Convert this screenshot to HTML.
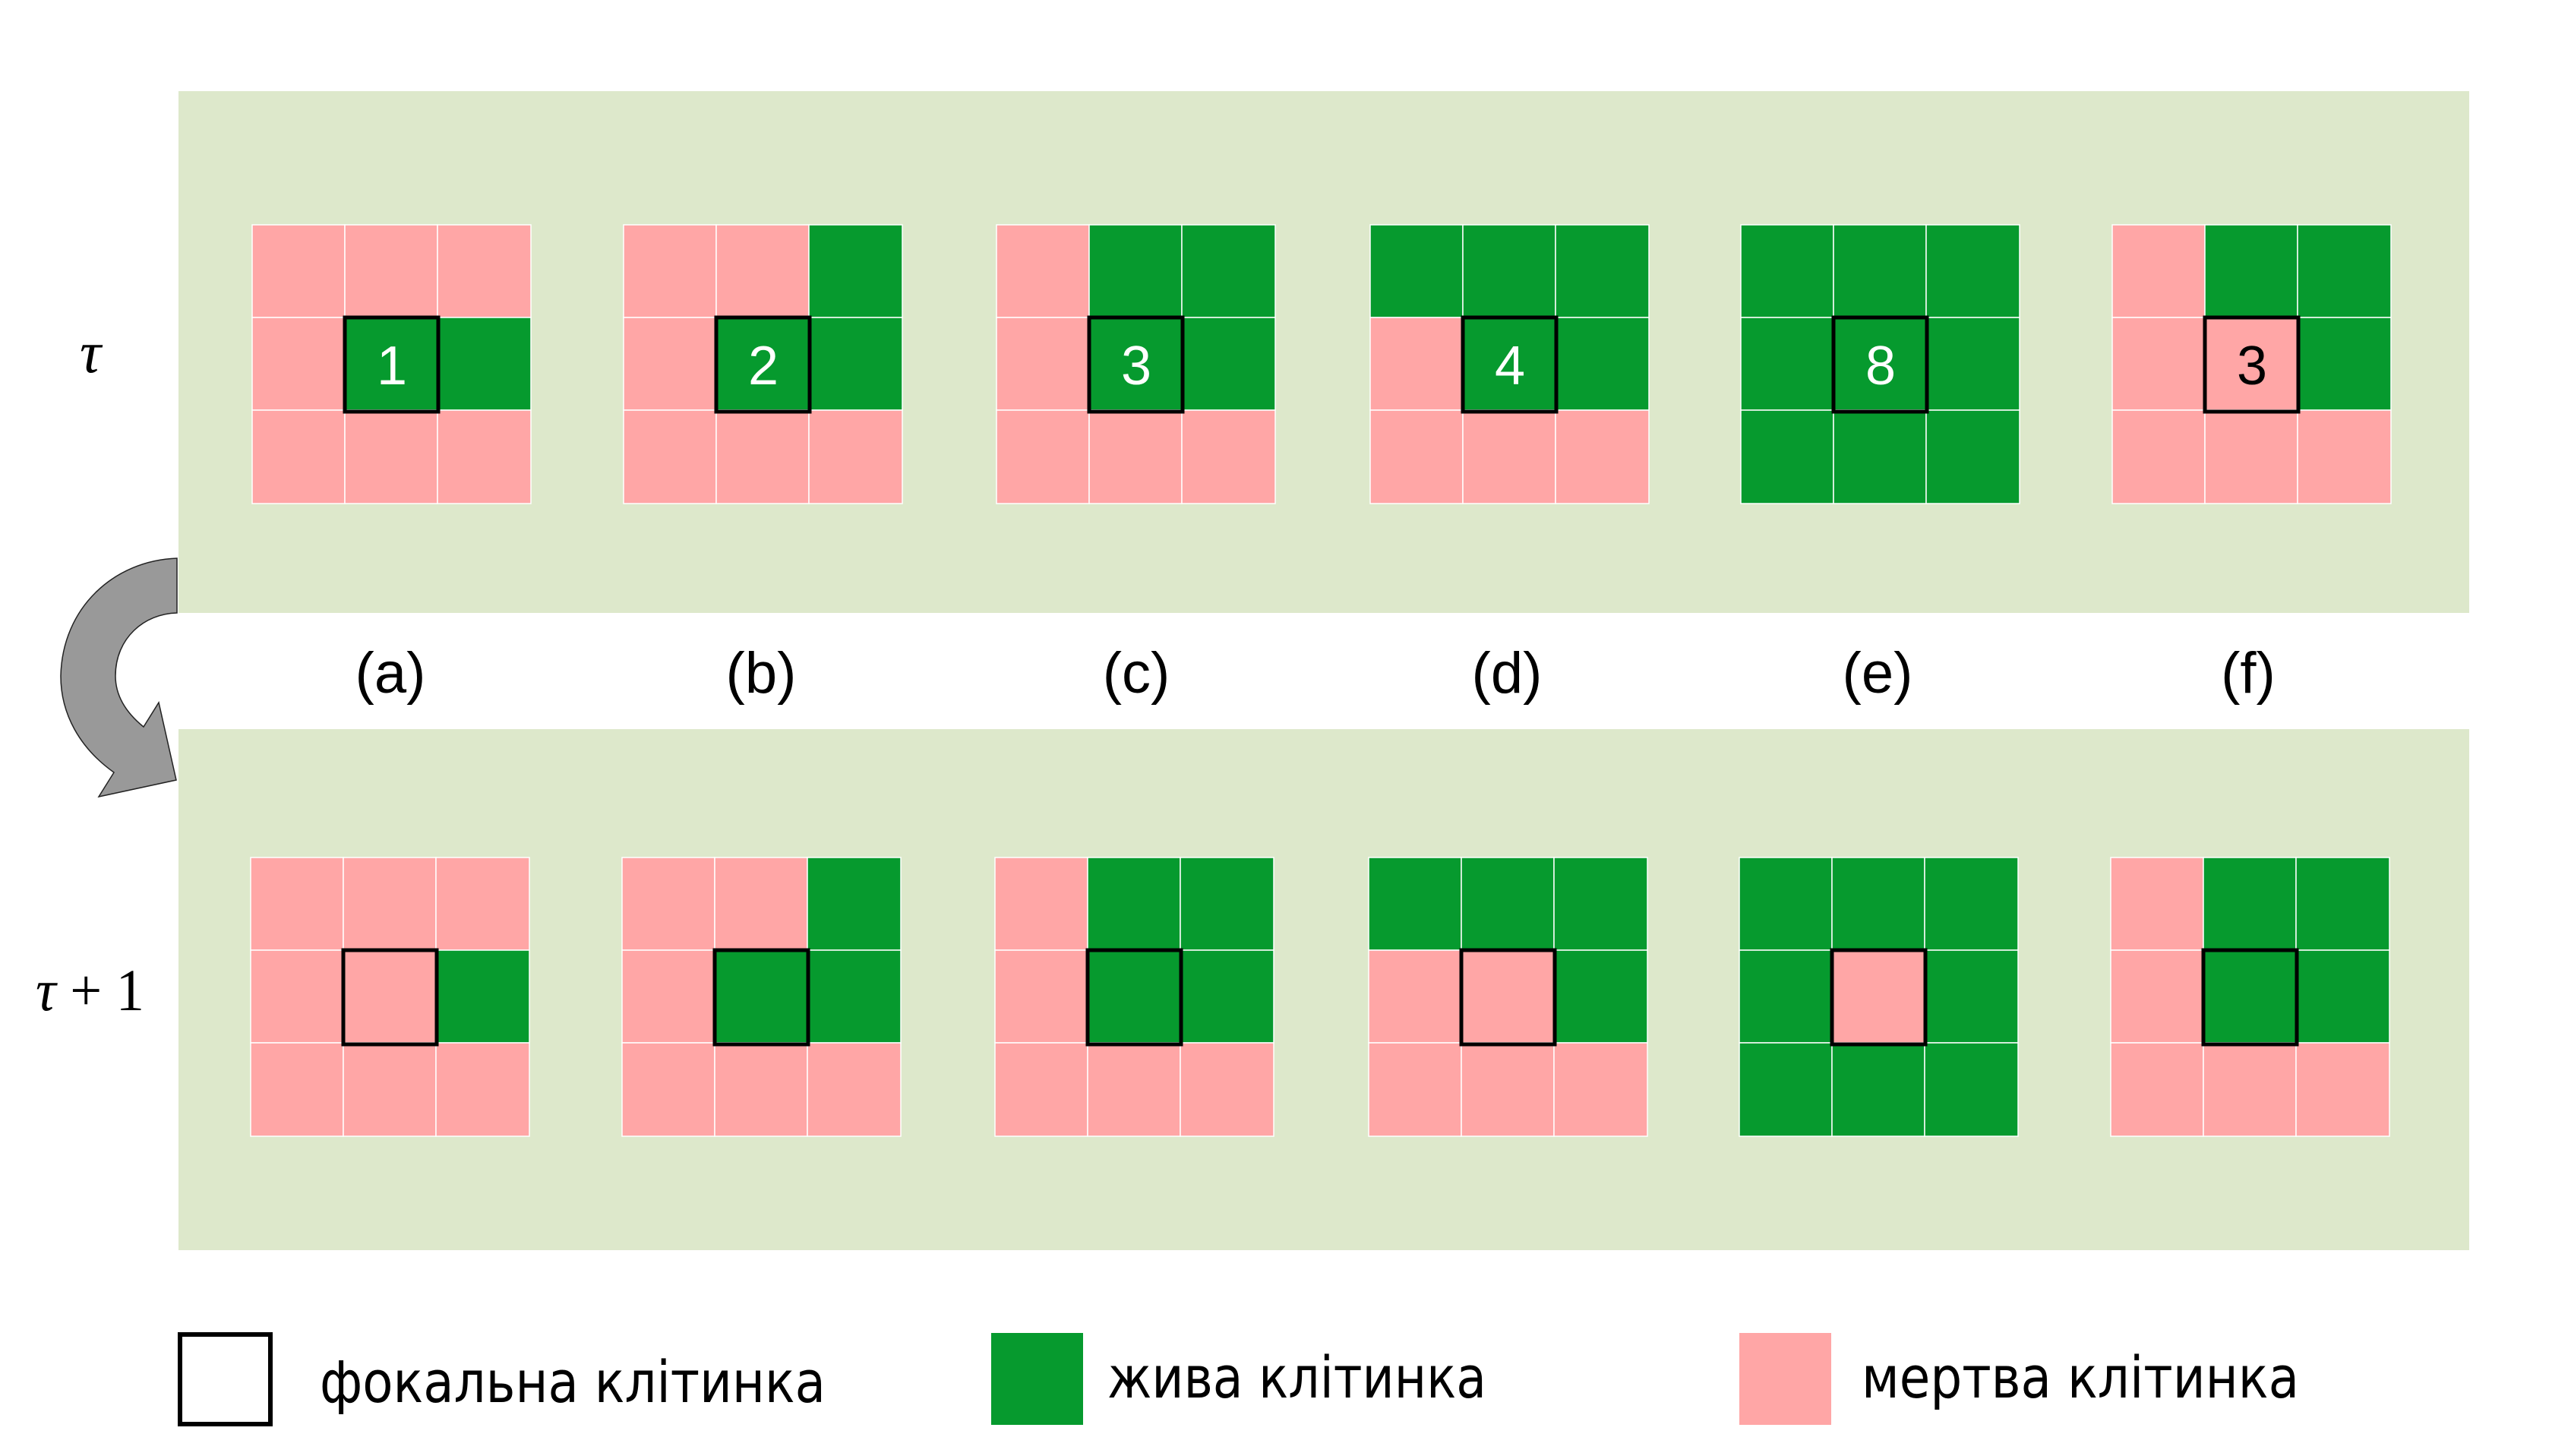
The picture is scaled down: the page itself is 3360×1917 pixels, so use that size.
<!DOCTYPE html>
<html><head><meta charset="utf-8"><style>
html,body{margin:0;padding:0;background:#fff;}
svg{display:block;}
</style></head><body>
<svg width="3360" height="1917" viewBox="0 0 3360 1917" xmlns="http://www.w3.org/2000/svg">
<rect x="0" y="0" width="3360" height="1917" fill="#fff"/>
<rect x="235" y="120" width="3016" height="687" fill="#dde8cb"/>
<rect x="235" y="960" width="3016" height="686" fill="#dde8cb"/>

<path d="M233,735 C150,738 82,800 80,890 C80,940 105,985 150,1017 L130,1049 L232,1027 L209,925 L189,957 C162,935 152,912 152,890 C152,840 190,808 233,807 Z" fill="#999" stroke="#222" stroke-width="1.5"/>

<g id="grids" stroke="#fff" stroke-width="1.5">
<!-- top row: y=296 -->
<!-- a -->
<g transform="translate(332,296)">
<rect x="0" y="0" width="122" height="122" fill="#ffa6a6"/><rect x="122" y="0" width="122" height="122" fill="#ffa6a6"/><rect x="244" y="0" width="123" height="122" fill="#ffa6a6"/>
<rect x="0" y="122" width="122" height="122" fill="#ffa6a6"/><rect x="122" y="122" width="122" height="122" fill="#069a2e"/><rect x="244" y="122" width="123" height="122" fill="#069a2e"/>
<rect x="0" y="244" width="122" height="123" fill="#ffa6a6"/><rect x="122" y="244" width="122" height="123" fill="#ffa6a6"/><rect x="244" y="244" width="123" height="123" fill="#ffa6a6"/>
</g>
<g transform="translate(821,296)">
<rect x="0" y="0" width="122" height="122" fill="#ffa6a6"/><rect x="122" y="0" width="122" height="122" fill="#ffa6a6"/><rect x="244" y="0" width="123" height="122" fill="#069a2e"/>
<rect x="0" y="122" width="122" height="122" fill="#ffa6a6"/><rect x="122" y="122" width="122" height="122" fill="#069a2e"/><rect x="244" y="122" width="123" height="122" fill="#069a2e"/>
<rect x="0" y="244" width="122" height="123" fill="#ffa6a6"/><rect x="122" y="244" width="122" height="123" fill="#ffa6a6"/><rect x="244" y="244" width="123" height="123" fill="#ffa6a6"/>
</g>
<g transform="translate(1312,296)">
<rect x="0" y="0" width="122" height="122" fill="#ffa6a6"/><rect x="122" y="0" width="122" height="122" fill="#069a2e"/><rect x="244" y="0" width="123" height="122" fill="#069a2e"/>
<rect x="0" y="122" width="122" height="122" fill="#ffa6a6"/><rect x="122" y="122" width="122" height="122" fill="#069a2e"/><rect x="244" y="122" width="123" height="122" fill="#069a2e"/>
<rect x="0" y="244" width="122" height="123" fill="#ffa6a6"/><rect x="122" y="244" width="122" height="123" fill="#ffa6a6"/><rect x="244" y="244" width="123" height="123" fill="#ffa6a6"/>
</g>
<g transform="translate(1804,296)">
<rect x="0" y="0" width="122" height="122" fill="#069a2e"/><rect x="122" y="0" width="122" height="122" fill="#069a2e"/><rect x="244" y="0" width="123" height="122" fill="#069a2e"/>
<rect x="0" y="122" width="122" height="122" fill="#ffa6a6"/><rect x="122" y="122" width="122" height="122" fill="#069a2e"/><rect x="244" y="122" width="123" height="122" fill="#069a2e"/>
<rect x="0" y="244" width="122" height="123" fill="#ffa6a6"/><rect x="122" y="244" width="122" height="123" fill="#ffa6a6"/><rect x="244" y="244" width="123" height="123" fill="#ffa6a6"/>
</g>
<g transform="translate(2292,296)">
<rect x="0" y="0" width="122" height="122" fill="#069a2e"/><rect x="122" y="0" width="122" height="122" fill="#069a2e"/><rect x="244" y="0" width="123" height="122" fill="#069a2e"/>
<rect x="0" y="122" width="122" height="122" fill="#069a2e"/><rect x="122" y="122" width="122" height="122" fill="#069a2e"/><rect x="244" y="122" width="123" height="122" fill="#069a2e"/>
<rect x="0" y="244" width="122" height="123" fill="#069a2e"/><rect x="122" y="244" width="122" height="123" fill="#069a2e"/><rect x="244" y="244" width="123" height="123" fill="#069a2e"/>
</g>
<g transform="translate(2781,296)">
<rect x="0" y="0" width="122" height="122" fill="#ffa6a6"/><rect x="122" y="0" width="122" height="122" fill="#069a2e"/><rect x="244" y="0" width="123" height="122" fill="#069a2e"/>
<rect x="0" y="122" width="122" height="122" fill="#ffa6a6"/><rect x="122" y="122" width="122" height="122" fill="#ffa6a6"/><rect x="244" y="122" width="123" height="122" fill="#069a2e"/>
<rect x="0" y="244" width="122" height="123" fill="#ffa6a6"/><rect x="122" y="244" width="122" height="123" fill="#ffa6a6"/><rect x="244" y="244" width="123" height="123" fill="#ffa6a6"/>
</g>

<!-- bottom row: y=1129 -->
<g transform="translate(330,1129)">
<rect x="0" y="0" width="122" height="122" fill="#ffa6a6"/><rect x="122" y="0" width="122" height="122" fill="#ffa6a6"/><rect x="244" y="0" width="123" height="122" fill="#ffa6a6"/>
<rect x="0" y="122" width="122" height="122" fill="#ffa6a6"/><rect x="122" y="122" width="122" height="122" fill="#ffa6a6"/><rect x="244" y="122" width="123" height="122" fill="#069a2e"/>
<rect x="0" y="244" width="122" height="123" fill="#ffa6a6"/><rect x="122" y="244" width="122" height="123" fill="#ffa6a6"/><rect x="244" y="244" width="123" height="123" fill="#ffa6a6"/>
</g>
<g transform="translate(819,1129)">
<rect x="0" y="0" width="122" height="122" fill="#ffa6a6"/><rect x="122" y="0" width="122" height="122" fill="#ffa6a6"/><rect x="244" y="0" width="123" height="122" fill="#069a2e"/>
<rect x="0" y="122" width="122" height="122" fill="#ffa6a6"/><rect x="122" y="122" width="122" height="122" fill="#069a2e"/><rect x="244" y="122" width="123" height="122" fill="#069a2e"/>
<rect x="0" y="244" width="122" height="123" fill="#ffa6a6"/><rect x="122" y="244" width="122" height="123" fill="#ffa6a6"/><rect x="244" y="244" width="123" height="123" fill="#ffa6a6"/>
</g>
<g transform="translate(1310,1129)">
<rect x="0" y="0" width="122" height="122" fill="#ffa6a6"/><rect x="122" y="0" width="122" height="122" fill="#069a2e"/><rect x="244" y="0" width="123" height="122" fill="#069a2e"/>
<rect x="0" y="122" width="122" height="122" fill="#ffa6a6"/><rect x="122" y="122" width="122" height="122" fill="#069a2e"/><rect x="244" y="122" width="123" height="122" fill="#069a2e"/>
<rect x="0" y="244" width="122" height="123" fill="#ffa6a6"/><rect x="122" y="244" width="122" height="123" fill="#ffa6a6"/><rect x="244" y="244" width="123" height="123" fill="#ffa6a6"/>
</g>
<g transform="translate(1802,1129)">
<rect x="0" y="0" width="122" height="122" fill="#069a2e"/><rect x="122" y="0" width="122" height="122" fill="#069a2e"/><rect x="244" y="0" width="123" height="122" fill="#069a2e"/>
<rect x="0" y="122" width="122" height="122" fill="#ffa6a6"/><rect x="122" y="122" width="122" height="122" fill="#ffa6a6"/><rect x="244" y="122" width="123" height="122" fill="#069a2e"/>
<rect x="0" y="244" width="122" height="123" fill="#ffa6a6"/><rect x="122" y="244" width="122" height="123" fill="#ffa6a6"/><rect x="244" y="244" width="123" height="123" fill="#ffa6a6"/>
</g>
<g transform="translate(2290,1129)">
<rect x="0" y="0" width="122" height="122" fill="#069a2e"/><rect x="122" y="0" width="122" height="122" fill="#069a2e"/><rect x="244" y="0" width="123" height="122" fill="#069a2e"/>
<rect x="0" y="122" width="122" height="122" fill="#069a2e"/><rect x="122" y="122" width="122" height="122" fill="#ffa6a6"/><rect x="244" y="122" width="123" height="122" fill="#069a2e"/>
<rect x="0" y="244" width="122" height="123" fill="#069a2e"/><rect x="122" y="244" width="122" height="123" fill="#069a2e"/><rect x="244" y="244" width="123" height="123" fill="#069a2e"/>
</g>
<g transform="translate(2779,1129)">
<rect x="0" y="0" width="122" height="122" fill="#ffa6a6"/><rect x="122" y="0" width="122" height="122" fill="#069a2e"/><rect x="244" y="0" width="123" height="122" fill="#069a2e"/>
<rect x="0" y="122" width="122" height="122" fill="#ffa6a6"/><rect x="122" y="122" width="122" height="122" fill="#069a2e"/><rect x="244" y="122" width="123" height="122" fill="#069a2e"/>
<rect x="0" y="244" width="122" height="123" fill="#ffa6a6"/><rect x="122" y="244" width="122" height="123" fill="#ffa6a6"/><rect x="244" y="244" width="123" height="123" fill="#ffa6a6"/>
</g>
</g>

<!-- focal boxes -->
<g fill="none" stroke="#000" stroke-width="5">
<rect x="454" y="418" width="123" height="124"/>
<rect x="943" y="418" width="123" height="124"/>
<rect x="1434" y="418" width="123" height="124"/>
<rect x="1926" y="418" width="123" height="124"/>
<rect x="2414" y="418" width="123" height="124"/>
<rect x="2903" y="418" width="123" height="124"/>
<rect x="452" y="1251" width="123" height="124"/>
<rect x="941" y="1251" width="123" height="124"/>
<rect x="1432" y="1251" width="123" height="124"/>
<rect x="1924" y="1251" width="123" height="124"/>
<rect x="2412" y="1251" width="123" height="124"/>
<rect x="2901" y="1251" width="123" height="124"/>
</g>

<g font-family="Liberation Sans, sans-serif" font-size="72" text-anchor="middle">
<text x="516" y="506" fill="#fff">1</text>
<text x="1005" y="506" fill="#fff">2</text>
<text x="1496" y="506" fill="#fff">3</text>
<text x="1988" y="506" fill="#fff">4</text>
<text x="2476" y="506" fill="#fff">8</text>
<text x="2965" y="506" fill="#000">3</text>
</g>

<g font-family="Liberation Sans, sans-serif" font-size="76" text-anchor="middle" fill="#000">
<text x="514" y="912">(a)</text>
<text x="1002" y="912">(b)</text>
<text x="1496" y="912">(c)</text>
<text x="1984" y="912">(d)</text>
<text x="2472" y="912">(e)</text>
<text x="2960" y="912">(f)</text>
</g>

<g font-family="Liberation Serif, serif" font-size="78" fill="#000">
<text x="105" y="490" font-style="italic">τ</text>
<text x="47" y="1330" textLength="143" lengthAdjust="spacingAndGlyphs"><tspan font-style="italic">τ</tspan> + 1</text>
</g>

<!-- legend -->
<rect x="237" y="1757" width="119" height="118" fill="#fff" stroke="#000" stroke-width="6"/>
<rect x="1305" y="1755" width="121" height="121" fill="#069a2e"/>
<rect x="2290" y="1755" width="121" height="121" fill="#ffa6a6"/>
<g font-family="DejaVu Sans, Liberation Sans, sans-serif" font-size="76" fill="#000">
<text x="421" y="1846" textLength="666" lengthAdjust="spacingAndGlyphs">фокальна клітинка</text>
<text x="1458" y="1840" textLength="499" lengthAdjust="spacingAndGlyphs">жива клітинка</text>
<text x="2451" y="1840" textLength="576" lengthAdjust="spacingAndGlyphs">мертва клітинка</text>
</g>
</svg>
</body></html>
